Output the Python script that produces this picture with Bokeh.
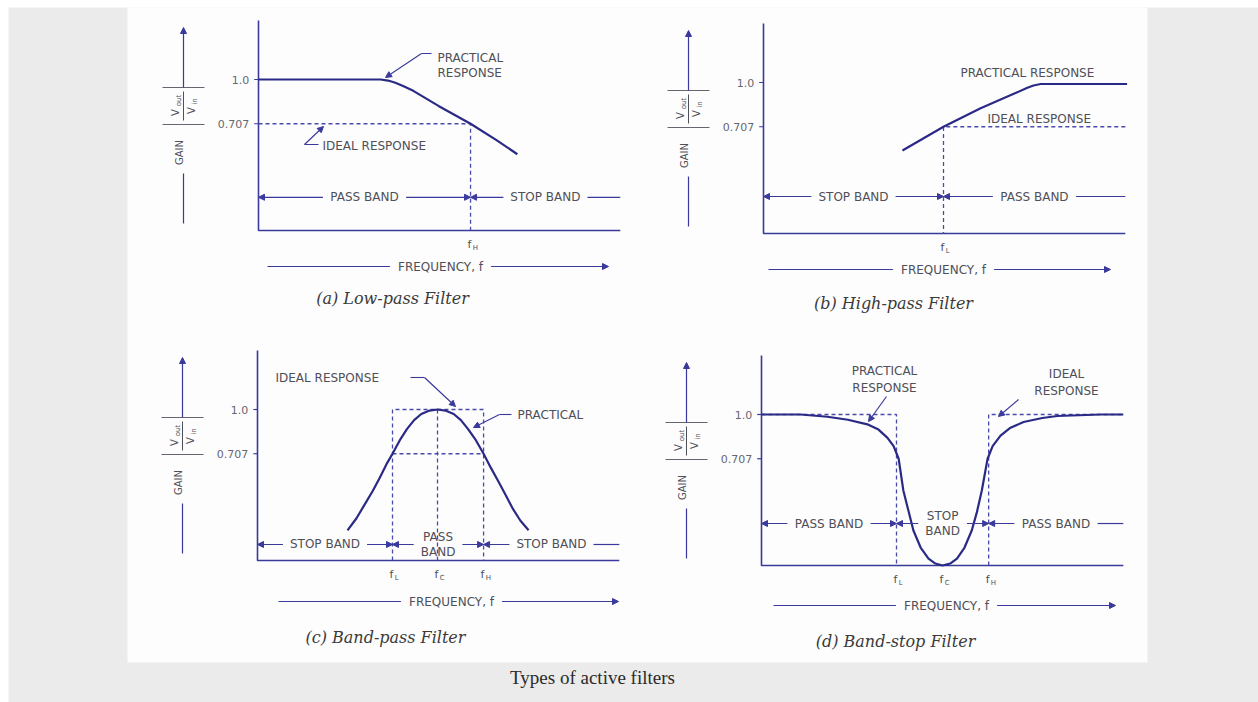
import math
from bokeh.plotting import figure
from bokeh.models import Range1d, Arrow, NormalHead, ColumnDataSource
from bokeh.core.properties import value
from bokeh.embed import file_html
from bokeh.resources import INLINE

# ---------------- data ----------------
LEVEL_LABELS = ["1.0", "0.707"]
LEVEL_VALUES = [1.0, 0.707]

# (a) low-pass: frequency (arbitrary units) / gain
LP_FREQ = [0.0, 3.39, 3.6, 3.8, 4.0, 4.3, 5.0, 5.89, 6.6, 7.19]
LP_GAIN = [1.0, 1.0, 0.993, 0.978, 0.958, 0.925, 0.825, 0.707, 0.6, 0.505]
LP_FH = 5.89

# (b) high-pass
HP_FREQ = [3.86, 5.0, 6.03, 7.0, 7.33, 7.5, 7.7, 10.1]
HP_GAIN = [0.55, 0.707, 0.83, 0.93, 0.965, 0.98, 0.99, 0.99]
HP_FL = 5.0

# (c) band-pass
BP_FREQ = [2.5, 2.75, 2.95, 3.2, 3.4, 3.6, 3.75, 3.95, 4.15, 4.35, 4.55, 4.78, 5.0,
           5.22, 5.45, 5.65, 5.85, 6.07, 6.28, 6.48, 6.7, 6.9, 7.1, 7.3, 7.53]
BP_GAIN = [0.2, 0.28, 0.36, 0.46, 0.55, 0.645, 0.707, 0.795, 0.87, 0.93, 0.97, 0.993, 1.0,
           0.993, 0.97, 0.93, 0.87, 0.795, 0.707, 0.615, 0.52, 0.43, 0.34, 0.265, 0.2]
BP_FL, BP_FC, BP_FH = 3.75, 5.0, 6.28

# (d) band-stop
BS_FREQ = [0.0, 1.08, 1.83, 2.4, 2.94, 3.25, 3.5, 3.67, 3.81, 3.94, 4.08, 4.22, 4.42, 4.64, 4.83, 5.03,
           5.24, 5.43, 5.64, 5.84, 5.98, 6.12, 6.28, 6.42, 6.64, 6.9, 7.28, 7.8, 8.22, 9.42, 10.05]
BS_GAIN = [1.0, 1.0, 0.985, 0.965, 0.935, 0.9, 0.845, 0.79, 0.707, 0.497, 0.364, 0.232, 0.119, 0.046, 0.013, 0.0,
           0.013, 0.046, 0.119, 0.232, 0.35, 0.497, 0.707, 0.79, 0.86, 0.91, 0.95, 0.977, 0.99, 1.0, 1.0]
BS_FL, BS_FC, BS_FH = 3.75, 5.03, 6.31

CAPTIONS = ["(a) Low-pass Filter", "(b) High-pass Filter", "(c) Band-pass Filter", "(d) Band-stop Filter"]
FIGURE_CAPTION = "Types of active filters"
FREQ_LABEL = "FREQUENCY, f"
GAIN_LABEL = "GAIN"

# ---------------- layout / style ----------------
W, H = 1258, 702
SX, SY = 36.0, 151.0          # px per frequency unit / per gain unit
AX_END = 10.05
GAIN_TOP = 1.39

AXIS_C = "#3a3a9c"
CURVE_C = "#2a2a86"
DASH_C = "#4a4aab"
TEXT_C = "#4f4f58"
TICK_C = "#666670"
SANS = value("DejaVu Sans")

W_EM = {'A': .684, 'B': .686, 'C': .698, 'D': .77, 'E': .632, 'F': .575, 'I': .295, 'L': .557,
        'N': .748, 'O': .787, 'P': .603, 'R': .695, 'S': .635, 'T': .611, 'Y': .611, 'Q': .787,
        'U': .732, ' ': .318, ',': .318, 'f': .352}


def text_w(s, size):
    return sum(W_EM.get(c, 0.62) for c in s) * size


p = figure(width=W, height=H, x_range=Range1d(0, W), y_range=Range1d(H, 0),
           output_backend="svg", toolbar_location=None, x_axis_type=None, y_axis_type=None,
           min_border=0, background_fill_color="white", border_fill_color="white",
           outline_line_color=None)
p.grid.visible = False

# grey page block and white sheet
p.quad(left=[8], right=[W], top=[7], bottom=[H], fill_color="#ebebeb", line_color=None)
p.quad(left=[127], right=[1147], top=[7], bottom=[662], fill_color="#fdfdfd", line_color=None)

# figure caption
p.text(x=[592], y=[677], text=[FIGURE_CAPTION], text_font=value("Liberation Serif"),
       text_font_size="19px", text_color="#2a2a2a", text_align="center", text_baseline="middle")

PANELS = [
    dict(key="a", ox=258, oy=230, freq=LP_FREQ, gain=LP_GAIN, cap=CAPTIONS[0], cap_xy=(392, 298),
         band_g=0.22,
         bands=[(0.0, LP_FH, ["PASS BAND"], False), (LP_FH, AX_END, ["STOP BAND"], True)],
         marks=[("H", LP_FH)],
         ideal=[([0.0, LP_FH, LP_FH], [LEVEL_VALUES[1], LEVEL_VALUES[1], 0.0])],
         frow=(36, 9, 182, 350)),
    dict(key="b", ox=763, oy=233, freq=HP_FREQ, gain=HP_GAIN, cap=CAPTIONS[1], cap_xy=(893, 303),
         band_g=0.245,
         bands=[(0.0, HP_FL, ["STOP BAND"], False), (HP_FL, AX_END, ["PASS BAND"], True)],
         marks=[("L", HP_FL)],
         ideal=[([AX_END, HP_FL, HP_FL], [LEVEL_VALUES[1], LEVEL_VALUES[1], 0.0])],
         frow=(36, 5, 180, 347)),
    dict(key="c", ox=257, oy=560, freq=BP_FREQ, gain=BP_GAIN, cap=CAPTIONS[2], cap_xy=(385, 637),
         band_g=0.106,
         bands=[(0.0, BP_FL, ["STOP BAND"], False), (BP_FL, BP_FH, ["PASS", "BAND"], False),
                (BP_FH, AX_END, ["STOP BAND"], True)],
         marks=[("L", BP_FL), ("C", BP_FC), ("H", BP_FH)],
         ideal=[([BP_FL, BP_FL, BP_FH, BP_FH], [0.0, LEVEL_VALUES[0], LEVEL_VALUES[0], 0.0]),
                ([BP_FL, BP_FH], [LEVEL_VALUES[1], LEVEL_VALUES[1]]),
                ([BP_FC, BP_FC], [LEVEL_VALUES[0], 0.0])],
         frow=(41, 21, 194, 361)),
    dict(key="d", ox=761, oy=565, freq=BS_FREQ, gain=BS_GAIN, cap=CAPTIONS[3], cap_xy=(895, 641),
         band_g=0.278,
         bands=[(0.0, BS_FL, ["PASS BAND"], False), (BS_FL, BS_FH, ["STOP", "BAND"], False),
                (BS_FH, AX_END, ["PASS BAND"], True)],
         marks=[("L", BS_FL), ("C", BS_FC), ("H", BS_FH)],
         ideal=[([0.0, BS_FL, BS_FL], [LEVEL_VALUES[0], LEVEL_VALUES[0], 0.0]),
                ([BS_FH, BS_FH, AX_END], [0.0, LEVEL_VALUES[0], LEVEL_VALUES[0]])],
         frow=(40, 12, 185, 354)),
]

# free annotation labels (page px)
NOTES = [
    ("PRACTICAL", 437, 57, "left"), ("RESPONSE", 437, 72, "left"), ("IDEAL RESPONSE", 322, 145, "left"),
    ("PRACTICAL RESPONSE", 960, 72, "left"), ("IDEAL RESPONSE", 987, 118, "left"),
    ("IDEAL RESPONSE", 275, 377, "left"), ("PRACTICAL", 517, 414, "left"),
    ("PRACTICAL", 884, 370, "center"), ("RESPONSE", 884, 387, "center"),
    ("IDEAL", 1066, 373, "center"), ("RESPONSE", 1066, 390, "center"),
]
LEADERS = [
    [(431, 53), (421, 53), (385, 77)],
    [(318, 144), (304, 144), (323, 126)],
    [(410, 377), (424, 377), (455, 406)],
    [(511, 414), (499, 414), (473, 427)],
    [(886, 396), (868, 421)],
    [(1018, 399), (998, 416)],
]


def head():
    return NormalHead(size=6, fill_color=AXIS_C, line_color=AXIS_C, line_width=1)


def add_arrows(x0, y0, x1, y1, rn=None):
    src = ColumnDataSource(dict(x0=x0, y0=y0, x1=x1, y1=y1))
    kw = {}
    if rn:
        kw = dict(x_range_name=rn, y_range_name=rn)
    p.add_layout(Arrow(end=head(), x_start="x0", y_start="y0", x_end="x1", y_end="y1",
                       source=src, line_color=AXIS_C, line_width=1.2, **kw))


for pn in PANELS:
    k, ox, oy = pn["key"], pn["ox"], pn["oy"]
    p.extra_x_ranges[k] = Range1d(-ox / SX, (W - ox) / SX)
    p.extra_y_ranges[k] = Range1d((oy - H) / SY, oy / SY)
    R = dict(x_range_name=k, y_range_name=k)

    # axes
    p.line([0, 0, AX_END], [GAIN_TOP, 0, 0], line_color=AXIS_C, line_width=1.6, **R)
    p.segment(x0=[-0.12] * 2, y0=LEVEL_VALUES, x1=[0] * 2, y1=LEVEL_VALUES, line_color=AXIS_C,
              line_width=1.2, **R)
    p.text(x=[-0.26] * 2, y=LEVEL_VALUES, text=LEVEL_LABELS, text_font=SANS, text_font_size="11px",
           text_color=TICK_C, text_align="right", text_baseline="middle", **R)

    # ideal response (dashed)
    for xs, ys in pn["ideal"]:
        p.line(xs, ys, line_color=DASH_C, line_width=1.3, line_dash="4 3", **R)

    # practical response
    p.line(pn["freq"], pn["gain"], line_color=CURVE_C, line_width=2.2, line_join="round", **R)

    # frequency markers
    for sub, fv in pn["marks"]:
        p.text(x=[fv - 0.03], y=[-14 / SY], text=["f"], text_font=SANS, text_font_size="11px",
               text_color=TEXT_C, text_align="center", text_baseline="middle", **R)
        p.text(x=[fv + 0.06], y=[-17 / SY], text=[sub], text_font=SANS, text_font_size="7px",
               text_color=TEXT_C, text_align="left", text_baseline="middle", **R)

    # band row
    g = pn["band_g"]
    ax0, ay0, ax1, ay1 = [], [], [], []
    for f0, f1, lines, open_end in pn["bands"]:
        fm = (f0 + f1) / 2
        half = (max(text_w(s, 12) for s in lines) / 2 + 7) / SX
        n = len(lines)
        for i, s in enumerate(lines):
            dy = (i - (n - 1) / 2) * 15 / SY
            p.text(x=[fm], y=[g - dy], text=[s], text_font=SANS, text_font_size="12px",
                   text_color=TEXT_C, text_align="center", text_baseline="middle", **R)
        ax0.append(fm - half); ay0.append(g); ax1.append(f0); ay1.append(g)
        if open_end:
            p.line([fm + half, f1], [g, g], line_color=AXIS_C, line_width=1.2, **R)
        else:
            ax0.append(fm + half); ay0.append(g); ax1.append(f1); ay1.append(g)
    add_arrows(ax0, ay0, ax1, ay1, rn=k)

    # frequency row (page px)
    dy, s0, cx, e1 = pn["frow"]
    fy = oy + dy
    half = text_w(FREQ_LABEL, 12) / 2 + 8
    p.line([ox + s0, ox + cx - half], [fy, fy], line_color=AXIS_C, line_width=1.2)
    p.text(x=[ox + cx], y=[fy], text=[FREQ_LABEL], text_font=SANS, text_font_size="12px",
           text_color=TEXT_C, text_align="center", text_baseline="middle")
    add_arrows([ox + cx + half], [fy], [ox + e1], [fy])

    # gain label with arrow (page px)
    ax = ox - 75
    add_arrows([ax], [oy - 143], [ax], [oy - 203])
    p.line([ax, ax], [oy - 57, oy - 7], line_color=AXIS_C, line_width=1.2)
    p.segment(x0=[ax - 21, ax - 21], y0=[oy - 143, oy - 106], x1=[ax + 21, ax + 21],
              y1=[oy - 143, oy - 106], line_color=TICK_C, line_width=1)
    p.line([ax, ax], [oy - 139, oy - 110], line_color=TEXT_C, line_width=1)
    p.text(x=[ax - 8, ax + 8], y=[oy - 118, oy - 120], text=["V", "V"], text_font=SANS,
           text_font_size="10px", text_color=TEXT_C, text_align="center", text_baseline="middle",
           angle=math.pi / 2)
    p.text(x=[ax - 5, ax + 11], y=[oy - 130, oy - 129], text=["out", "in"], text_font=SANS,
           text_font_size="7px", text_color=TEXT_C, text_align="center", text_baseline="middle",
           angle=math.pi / 2)
    p.text(x=[ax - 4], y=[oy - 78], text=[GAIN_LABEL], text_font=SANS, text_font_size="10px",
           text_color=TEXT_C, text_align="center", text_baseline="middle", angle=math.pi / 2)

    # caption
    cx_, cy_ = pn["cap_xy"]
    p.text(x=[cx_], y=[cy_], text=[pn["cap"]], text_font=value("DejaVu Serif"),
           text_font_style="italic", text_font_size="16px", text_color="#3a3a3a",
           text_align="center", text_baseline="middle")

# annotation labels
for s, x, y, al in NOTES:
    p.text(x=[x], y=[y], text=[s], text_font=SANS, text_font_size="12px", text_color=TEXT_C,
           text_align=al, text_baseline="middle")

# leader lines
lx0, ly0, lx1, ly1 = [], [], [], []
for pts in LEADERS:
    if len(pts) > 2:
        p.line([q[0] for q in pts[:-1]], [q[1] for q in pts[:-1]], line_color=AXIS_C, line_width=1.1)
    lx0.append(pts[-2][0]); ly0.append(pts[-2][1]); lx1.append(pts[-1][0]); ly1.append(pts[-1][1])
add_arrows(lx0, ly0, lx1, ly1)

open("out.html", "w").write(file_html(p, INLINE))
